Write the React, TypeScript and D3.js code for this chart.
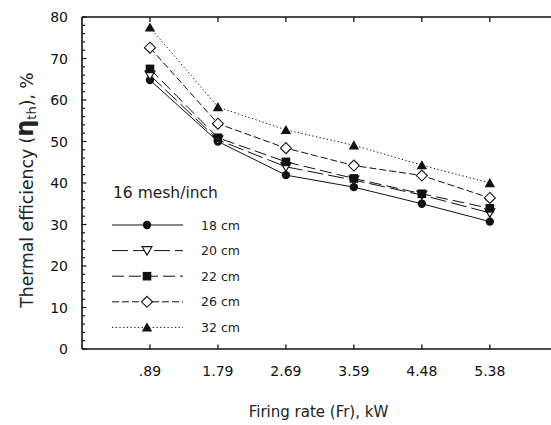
import React from "react";
import * as d3 from "d3";

const categories = [".89", "1.79", "2.69", "3.59", "4.48", "5.38"];
const seriesNames = ["18 cm", "20 cm", "22 cm", "26 cm", "32 cm"];
const s18 = [64.8, 50.0, 41.9, 39.0, 35.0, 30.7];
const s20 = [66.0, 50.4, 43.9, 40.7, 37.1, 32.8];
const s22 = [67.5, 50.9, 45.1, 41.1, 37.4, 33.9];
const s26 = [72.6, 54.3, 48.4, 44.2, 41.8, 36.4];
const s32 = [77.5, 58.3, 52.8, 49.1, 44.3, 40.0];
const yTicks = [0, 10, 20, 30, 40, 50, 60, 70, 80];
const legendTitle = "16 mesh/inch";

const seriesValues = [s18, s20, s22, s26, s32];
const dashes = ["none", "16,5", "12,5", "7,3", "1.3,2.4"];
const markers = ["circle", "triDown", "square", "diamond", "triUp"];

const W = 551, H = 425;
const left = 82, top = 17, bottom = 349, right = 551;
const font = "DejaVu Sans, sans-serif";

function Marker({ type, x, y }: { type: string; x: number; y: number }) {
  if (type === "circle") return <circle cx={x} cy={y} r={4.2} fill="#111" />;
  if (type === "square") return <rect x={x - 4.3} y={y - 4.3} width={8.6} height={8.6} fill="#111" />;
  if (type === "diamond")
    return <path d={`M${x},${y - 5.5}L${x + 5.5},${y}L${x},${y + 5.5}L${x - 5.5},${y}Z`} fill="#fff" stroke="#111" strokeWidth={1.1} />;
  if (type === "triDown")
    return <path d={`M${x - 5},${y - 4}L${x + 5},${y - 4}L${x},${y + 4.5}Z`} fill="#fff" stroke="#111" strokeWidth={1.1} />;
  return <path d={`M${x - 5.2},${y + 4.2}L${x + 5.2},${y + 4.2}L${x},${y - 5}Z`} fill="#111" />;
}

export default function App() {
  const x = d3.scaleLinear().domain([-1, 5.9]).range([left, right]);
  const y = d3.scaleLinear().domain([0, 80]).range([bottom, top]);
  const line = d3.line<number>().x((_, i) => x(i)).y((d) => y(d));
  const minor = d3.range(0, 81, 2);
  const legX0 = 112, legX1 = 183, legMx = 147, legY0 = 225, legDy = 25.6;

  return (
    <svg width={W} height={H} style={{ position: "absolute", left: 0, top: 0, background: "#fff" }} fontFamily={font}>
      <rect width={W} height={H} fill="#fff" />
      {/* axes */}
      <line x1={left} x2={left} y1={top} y2={bottom} stroke="#111" strokeWidth={1.6} />
      <line x1={left} x2={right} y1={bottom} y2={bottom} stroke="#111" strokeWidth={1.6} />
      <line x1={left} x2={right} y1={top} y2={top} stroke="#111" strokeWidth={1.6} />
      {minor.map((v) => (
        <line key={"m" + v} x1={left} x2={left + (v % 10 === 0 ? 4.5 : 3)} y1={y(v)} y2={y(v)} stroke="#111" strokeWidth={1.2} />
      ))}
      {categories.map((c, i) => (
        <g key={c}>
          <line x1={x(i)} x2={x(i)} y1={bottom} y2={bottom - 4.5} stroke="#111" strokeWidth={1.3} />
          <line x1={x(i)} x2={x(i)} y1={top} y2={top + 5} stroke="#111" strokeWidth={1.3} />
          <text x={x(i)} y={376} fontSize={14} textAnchor="middle" fill="#111">{c}</text>
        </g>
      ))}
      {yTicks.map((v) => (
        <text key={v} x={68} y={y(v) + 5} fontSize={14} textAnchor="end" fill="#111">{v}</text>
      ))}
      {/* series */}
      {seriesValues.map((vals, k) => (
        <g key={seriesNames[k]}>
          <path d={line(vals) || ""} fill="none" stroke="#111" strokeWidth={1} strokeDasharray={dashes[k]} />
          {vals.map((v, i) => <Marker key={i} type={markers[k]} x={x(i)} y={y(v)} />)}
        </g>
      ))}
      {/* legend */}
      <text x={113} y={198} fontSize={15.5} fill="#222">{legendTitle}</text>
      {seriesNames.map((n, k) => {
        const ly = legY0 + k * legDy;
        return (
          <g key={n}>
            <line x1={legX0} x2={legX1} y1={ly} y2={ly} stroke="#111" strokeWidth={1} strokeDasharray={dashes[k]} />
            <Marker type={markers[k]} x={legMx} y={ly} />
            <text x={201} y={ly + 4.5} fontSize={12.5} fill="#222">{n}</text>
          </g>
        );
      })}
      {/* axis titles */}
      <text x={(left + right) / 2 + 2} y={417} fontSize={15} textAnchor="middle" fill="#222">Firing rate (Fr), kW</text>
      <text transform="translate(33,190) rotate(-90)" fontSize={17.2} textAnchor="middle" fill="#222">
        Thermal efficiency (<tspan fontSize={24} fontWeight="bold">η</tspan>
        <tspan fontSize={13} dy={3}>th</tspan>
        <tspan dy={-3}>), %</tspan>
      </text>
    </svg>
  );
}
